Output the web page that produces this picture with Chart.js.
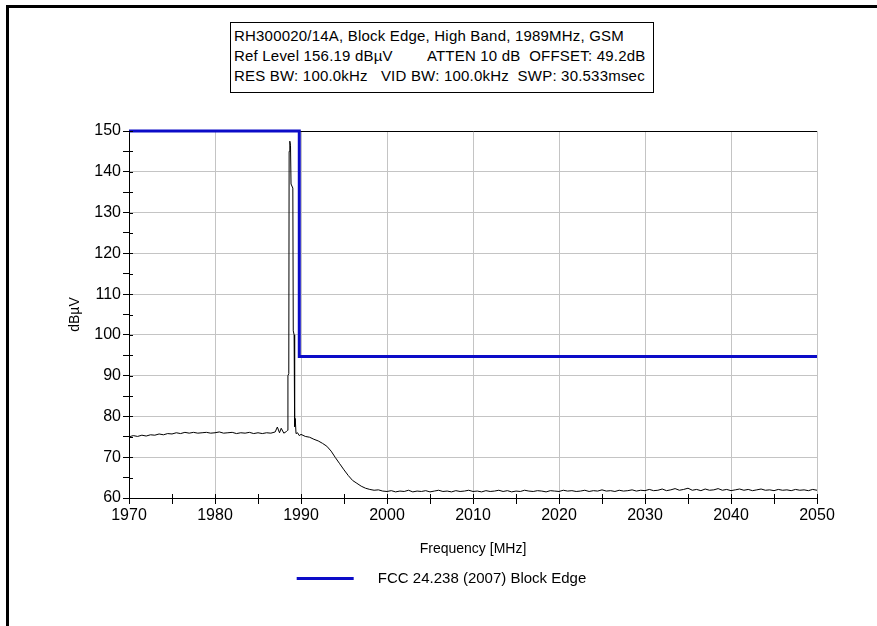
<!DOCTYPE html>
<html>
<head>
<meta charset="utf-8">
<script src="https://cdn.jsdelivr.net/npm/chart.js@4/dist/chart.umd.min.js"></script>
<style>
  html, body { margin: 0; padding: 0; background: #fff; width: 877px; height: 626px; overflow: hidden; }
  #frame { position: absolute; left: 6px; top: 5px; width: 1000px; height: 800px; border: 3px solid #000; }
  #wrap { position: absolute; left: 0; top: 0; width: 877px; height: 626px; }
  #info { position: absolute; left: 230px; top: 22px; width: 419px; height: 63px; border: 1px solid #000;
          padding: 3px 0 3px 3px; font: 15px "Liberation Sans", Arial, sans-serif; line-height: 20px;
          letter-spacing: 0.2px; white-space: pre; color: #000; background: #fff; }
</style>
</head>
<body>
<div id="frame"></div>
<div id="wrap"><canvas id="c" width="877" height="626"></canvas></div>
<div id="info"></div>
<script>
// ---- header text ----
const infoLines = [
  "RH300020/14A, Block Edge, High Band, 1989MHz, GSM",
  "Ref Level 156.19 dB\u00b5V        ATTEN 10 dB  OFFSET: 49.2dB",
  "RES BW: 100.0kHz   VID BW: 100.0kHz  SWP: 30.533msec"
];
// ---- axes ----
const yMin = 60, yMax = 150, yMajor = 10, yMinor = 5;
const xMin = 1970, xMax = 2050, xMajor = 10, xMinor = 5;
const yTitle = "dB\u00b5V";
const xTitle = "Frequency [MHz]";
// ---- measured trace ----
const traceFreq = [
  1970,1970.5,1971,1971.5,1972,1972.5,1973,1973.5,1974,1974.5,1975,1975.5,1976,1976.5,1977,1977.5,1978,1978.5,1979,1979.5,
  1980,1980.5,1981,1981.5,1982,1982.5,1983,1983.5,1984,1984.5,1985,1985.5,1986,1986.5,1987,
  1987.25,1987.5,1987.7,1988,1988.3,1988.45,1988.48,1988.58,1988.62,1988.7,1988.78,1988.84,1989.05,1989.1,1989.2,
  1989.26,1989.33,1989.42,1989.6,1989.8,1990,1990.5,1991,1991.5,1992,1992.5,1993,1993.5,1994,1994.5,1995,1995.5,
  1996,1996.5,1997,1997.5,1998,1998.5,1999,1999.5,
  2000,2000.5,2001,2001.5,2002,2002.5,2003,2003.5,2004,2004.5,2005,2005.5,2006,2006.5,2007,2007.5,2008,2008.5,2009,2009.5,
  2010,2010.5,2011,2011.5,2012,2012.5,2013,2013.5,2014,2014.5,2015,2015.5,2016,2016.5,2017,2017.5,2018,2018.5,2019,2019.5,
  2020,2020.5,2021,2021.5,2022,2022.5,2023,2023.5,2024,2024.5,2025,2025.5,2026,2026.5,2027,2027.5,2028,2028.5,2029,2029.5,
  2030,2030.5,2031,2031.5,2032,2032.5,2033,2033.5,2034,2034.5,2035,2035.5,2036,2036.5,2037,2037.5,2038,2038.5,2039,2039.5,
  2040,2040.5,2041,2041.5,2042,2042.5,2043,2043.5,2044,2044.5,2045,2045.5,2046,2046.5,2047,2047.5,2048,2048.5,2049,2049.5,
  2050
];
const traceLevel = [
  75.0,75.3,75.1,75.4,75.2,75.5,75.4,75.7,75.5,75.8,75.7,76.0,75.8,76.1,75.9,76.1,75.9,76.0,76.1,75.9,
  76.0,76.2,75.9,76.0,76.1,75.8,76.0,75.9,76.1,75.8,76.0,75.8,76.0,75.9,76.2,
  77.4,76.0,77.1,75.9,76.3,76.6,90.0,90.5,145.0,147.5,146.5,137.0,136.0,101.0,100.0,
  77.5,79.5,75.8,76.0,75.3,75.6,75.1,74.9,74.4,74.0,73.4,72.7,71.5,69.9,68.4,66.9,65.5,
  64.3,63.6,62.9,62.4,62.1,61.9,62.0,61.7,
  61.6,61.8,61.5,61.7,61.6,61.9,61.5,61.7,61.6,61.8,61.5,61.7,61.9,61.6,61.7,61.5,61.8,61.6,61.7,61.9,
  61.6,61.7,61.5,61.8,61.6,61.7,61.9,61.6,61.8,61.5,61.7,61.6,61.9,61.7,61.6,61.8,61.7,61.5,61.8,61.7,
  61.6,61.9,61.7,61.8,61.6,61.7,61.9,61.6,61.8,61.7,62.0,61.7,61.8,61.6,61.9,61.7,61.8,62.0,61.7,61.9,
  61.8,62.1,61.8,61.9,62.2,61.8,62.0,62.3,61.9,62.1,62.4,61.9,62.1,61.8,62.2,61.9,62.0,62.3,61.9,62.1,
  61.8,62.0,62.2,61.9,62.1,61.8,62.0,62.2,61.9,62.0,61.8,62.1,61.9,62.0,61.8,62.1,61.9,62.0,61.8,62.1,
  61.9
];
// ---- limit line ----
const limitLabel = "FCC 24.238 (2007) Block Edge";
const limitFreq = [1970, 1989.8, 1989.8, 2050];
const limitLevel = [150, 150, 94.7, 94.7];

document.getElementById('info').textContent = infoLines.join("\n");

const FONT = '"Liberation Sans", Arial, sans-serif';
const GRID = '#c4c4c4';
const BLUE = '#0c0cc8';

const innerTicks = {
  id: 'innerTicks',
  afterDraw(chart) {
    const {ctx, chartArea: a, scales: {x, y}} = chart;
    ctx.save();
    ctx.strokeStyle = '#000';
    ctx.lineWidth = 1;
    ctx.beginPath();
    y.ticks.forEach(t => {
      const p = Math.round(y.getPixelForValue(t.value)) + 0.5;
      ctx.moveTo(a.left, p); ctx.lineTo(a.left + 4, p);
    });
    x.ticks.forEach(t => {
      const p = Math.round(x.getPixelForValue(t.value)) + 0.5;
      ctx.moveTo(p, a.bottom); ctx.lineTo(p, a.bottom - 4);
    });
    ctx.stroke();
    ctx.restore();
  }
};

new Chart(document.getElementById('c'), {
  type: 'line',
  data: {
    datasets: [
      {
        label: 'trace',
        data: traceFreq.map((f, i) => ({x: f, y: traceLevel[i]})),
        borderColor: '#000',
        borderWidth: 1,
        pointRadius: 0,
        tension: 0,
        fill: false
      },
      {
        label: limitLabel,
        data: limitFreq.map((f, i) => ({x: f, y: limitLevel[i]})),
        borderColor: BLUE,
        backgroundColor: BLUE,
        borderWidth: 3,
        pointRadius: 0,
        tension: 0,
        fill: false,
        clip: false
      }
    ]
  },
  options: {
    responsive: false,
    animation: false,
    layout: { padding: { top: 131, left: 66, right: 60, bottom: 30 } },
    plugins: {
      legend: {
        display: true,
        position: 'bottom',
        labels: {
          usePointStyle: true,
          pointStyle: 'line',
          pointStyleWidth: 57,
          padding: 13,
          color: '#000',
          font: { family: FONT, size: 15 },
          generateLabels: chart => {
            const items = Chart.defaults.plugins.legend.labels.generateLabels(chart);
            return items.filter(i => i.datasetIndex === 1).map(i => Object.assign(i, {
              text: '    ' + i.text, pointStyle: 'line', strokeStyle: BLUE, lineWidth: 3
            }));
          }
        }
      },
      tooltip: { enabled: false }
    },
    scales: {
      x: {
        type: 'linear',
        min: xMin, max: xMax,
        afterFit: s => { s.height = 60; },
        ticks: {
          stepSize: xMinor,
          autoSkip: false,
          maxRotation: 0,
          padding: 2,
          color: '#000',
          font: { family: FONT, size: 16 },
          callback: v => (v % xMajor === 0 ? String(v) : '')
        },
        grid: {
          color: c => (c.tick && c.tick.value % xMajor === 0 ? GRID : 'rgba(0,0,0,0)'),
          tickColor: '#000',
          tickLength: 6,
          lineWidth: 1
        },
        border: { display: true, color: '#000', width: 1 },
        title: {
          display: true, text: xTitle, color: '#000',
          font: { family: FONT, size: 14 },
          padding: { top: 0, bottom: 0 }
        }
      },
      y: {
        type: 'linear',
        min: yMin, max: yMax,
        afterFit: s => { s.width = 63; },
        ticks: {
          stepSize: yMinor,
          autoSkip: false,
          padding: 2,
          color: '#000',
          font: { family: FONT, size: 16 },
          callback: v => (v % yMajor === 0 ? String(v) : '')
        },
        grid: {
          color: c => {
            if (!c.tick) return 'rgba(0,0,0,0)';
            if (c.tick.value === yMax) return '#000';
            return c.tick.value % yMajor === 0 ? GRID : 'rgba(0,0,0,0)';
          },
          tickColor: '#000',
          tickLength: 6,
          lineWidth: 1
        },
        border: { display: true, color: '#000', width: 1 },
        title: {
          display: true, text: yTitle, color: '#000',
          font: { family: FONT, size: 14 },
          padding: { top: 1, bottom: 0 }
        }
      }
    }
  },
  plugins: [innerTicks]
});
</script>
</body>
</html>
